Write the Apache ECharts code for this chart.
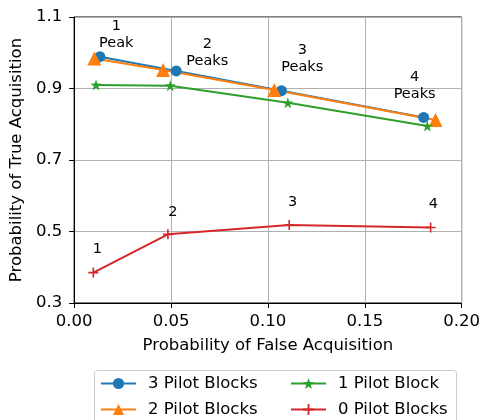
<!DOCTYPE html>
<html>
<head>
<meta charset="utf-8">
<script src="https://cdn.jsdelivr.net/npm/echarts@6/dist/echarts.min.js"></script>
<style>
  html,body{margin:0;padding:0;background:#fff;}
  #main{width:483px;height:420px;}
</style>
</head>
<body>
<div id="main"></div>
<script>
// 数据
var seriesNames = ['3 Pilot Blocks', '2 Pilot Blocks', '1 Pilot Block', '0 Pilot Blocks'];
var pilot3 = [[0.0133, 0.989], [0.0527, 0.949], [0.107, 0.894], [0.1804, 0.819]];
var pilot2 = [[0.0104, 0.984], [0.0459, 0.952], [0.1033, 0.896], [0.1865, 0.812]];
var pilot1 = [[0.0113, 0.910], [0.0496, 0.908], [0.1103, 0.860], [0.1823, 0.795]];
var pilot0 = [[0.0099, 0.385], [0.0484, 0.492], [0.111, 0.518], [0.184, 0.511]];
// 注释文字（数据坐标）
var peakNotes = [[0.022, 1.048, '1\nPeak'], [0.069, 1.0, '2\nPeaks'], [0.118, 0.982, '3\nPeaks'], [0.176, 0.905, '4\nPeaks']];
var zeroNotes = [[0.0123, 0.449, '1'], [0.0512, 0.553, '2'], [0.113, 0.581, '3'], [0.1857, 0.575, '4']];

var colors = ['#1f77b4', '#ff7f0e', '#2ca02c', '#d62728'];
var font = 'DejaVu Sans';
var fs = 16.5;

// 星形 / 加号 marker
function starPath() {
  var pts = [];
  for (var i = 0; i < 10; i++) {
    var r = i % 2 == 0 ? 50 : 20;
    var a = Math.PI / 2 + i * Math.PI / 5;
    pts.push((50 + r * Math.cos(a)).toFixed(2) + ',' + (50 - r * Math.sin(a)).toFixed(2));
  }
  return 'path://M' + pts.join(' L') + ' Z';
}
var plusPath = 'path://M42,0 L58,0 L58,42 L100,42 L100,58 L58,58 L58,100 L42,100 L42,58 L0,58 L0,42 L42,42 Z';

function lineSeries(name, data, color, symbol, size) {
  return {
    name: name, type: 'line', data: data,
    symbol: symbol, symbolSize: size, showSymbol: true,
    lineStyle: {color: color, width: 2},
    itemStyle: {color: color},
    emphasis: {disabled: true}
  };
}
function noteSeries(data) {
  return {
    type: 'scatter', data: data, symbolSize: 1,
    itemStyle: {color: '#ffffff', opacity: 1},
    label: {
      show: true, position: [0, 0], color: '#000000', opacity: 1, textBorderWidth: 0,
      fontFamily: font, fontSize: 14.5, lineHeight: 17, align: 'center', verticalAlign: 'middle',
      formatter: function (p) { return p.data[2]; }
    },
    emphasis: {disabled: true},
    silent: true, z: 1
  };
}

var chart = echarts.init(document.getElementById('main'), null, {renderer: 'canvas'});
chart.setOption({
  animation: false,
  textStyle: {fontFamily: font},
  grid: {left: 73, right: 19, top: 17, bottom: 117, show: true, borderColor: '#000', borderWidth: 1, containLabel: false},
  xAxis: {
    type: 'value', min: 0, max: 0.2, interval: 0.05,
    name: 'Probability of False Acquisition', nameLocation: 'middle', nameGap: 34,
    nameTextStyle: {color: '#000', fontSize: fs, fontFamily: font},
    axisLine: {show: true, onZero: false, lineStyle: {color: '#000'}},
    axisTick: {show: true, length: 5, lineStyle: {color: '#000'}},
    axisLabel: {color: '#000', fontSize: fs, fontFamily: font, margin: 10,
      formatter: function (v) { return v.toFixed(2); }},
    splitLine: {show: true, lineStyle: {color: '#b0b0b0', width: 1}}
  },
  yAxis: {
    type: 'value', min: 0.3, max: 1.1, interval: 0.2,
    name: 'Probability of True Acquisition', nameLocation: 'middle', nameGap: 45,
    nameTextStyle: {color: '#000', fontSize: fs, fontFamily: font},
    axisLine: {show: true, onZero: false, lineStyle: {color: '#000'}},
    axisTick: {show: true, length: 5, lineStyle: {color: '#000'}},
    axisLabel: {color: '#000', fontSize: fs, fontFamily: font, margin: 12,
      formatter: function (v) { return v.toFixed(1); }},
    splitLine: {show: true, lineStyle: {color: '#b0b0b0', width: 1}}
  },
  graphic: [{
    type: 'rect', left: 94, top: 370, z: -1,
    shape: {width: 362, height: 60, r: 3},
    style: {fill: '#fff', stroke: '#cccccc', lineWidth: 1}
  }],
  legend: [{
    data: [seriesNames[0], seriesNames[1]], orient: 'vertical',
    left: 100, top: 375, padding: 0, itemWidth: 35, itemHeight: 14, itemGap: 9,
    textStyle: {fontSize: fs, lineHeight: 16, fontFamily: font, color: '#000', padding: [0, 0, 0, 7]}
  }, {
    data: [seriesNames[2], seriesNames[3]], orient: 'vertical',
    left: 290, top: 375, padding: 0, itemWidth: 35, itemHeight: 14, itemGap: 9,
    textStyle: {fontSize: fs, lineHeight: 16, fontFamily: font, color: '#000', padding: [0, 0, 0, 7]}
  }],
  series: [
    noteSeries(peakNotes),
    noteSeries(zeroNotes),
    lineSeries(seriesNames[0], pilot3, colors[0], 'circle', 11),
    lineSeries(seriesNames[1], pilot2, colors[1], 'triangle', 14),
    lineSeries(seriesNames[2], pilot1, colors[2], starPath(), 11),
    lineSeries(seriesNames[3], pilot0, colors[3], plusPath, 10)
  ]
});
</script>
</body>
</html>
